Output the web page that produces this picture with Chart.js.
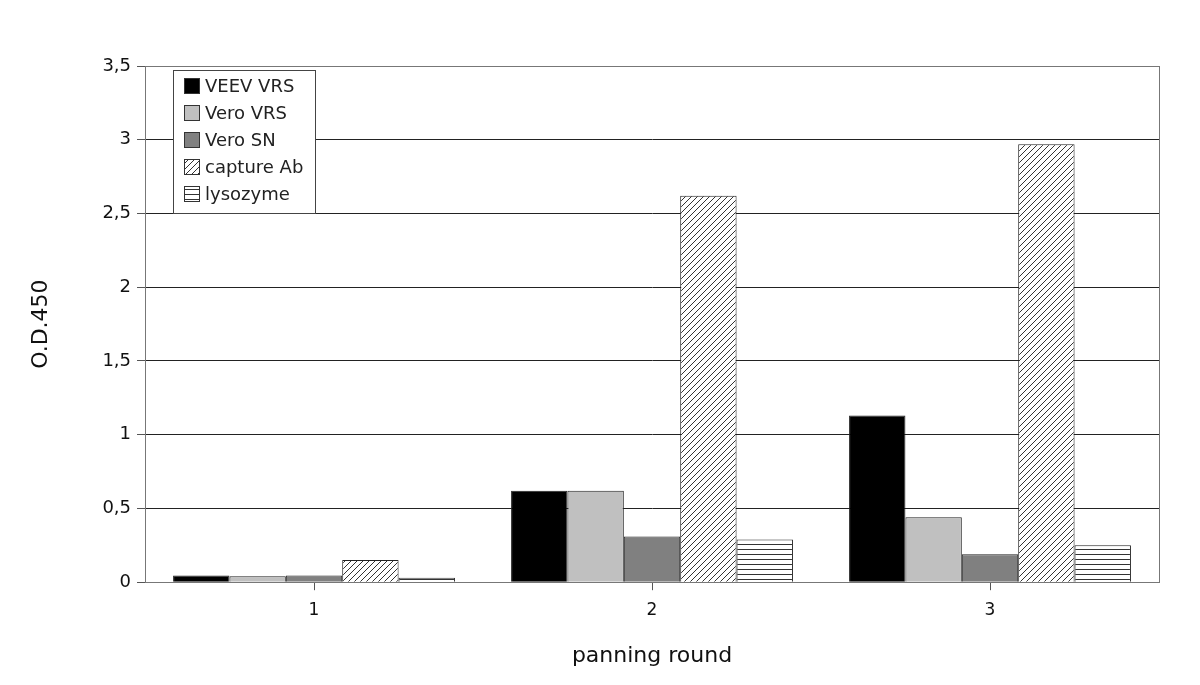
<!DOCTYPE html>
<html>
<head>
<meta charset="utf-8">
<script src="https://cdn.jsdelivr.net/npm/chart.js@4/dist/chart.umd.min.js"></script>
<style>
  html, body { margin: 0; padding: 0; background: #fff; }
  #wrap { width: 1200px; height: 685px; }
</style>
</head>
<body>
<div id="wrap"><canvas id="myChart" width="1200" height="685"></canvas></div>
<script>
const rounds = ['1', '2', '3'];
const seriesNames = ['VEEV VRS', 'Vero VRS', 'Vero SN', 'capture Ab', 'lysozyme'];
const veevVrs = [0.045, 0.62, 1.13];
const veroVrs = [0.04, 0.62, 0.44];
const veroSn = [0.045, 0.31, 0.19];
const captureAb = [0.15, 2.62, 2.97];
const lysozyme = [0.03, 0.29, 0.25];

function hatch(kind) {
    const c = document.createElement('canvas');
    const s = kind === 'diag' ? 6 : 5;
    c.width = s; c.height = s;
    const g = c.getContext('2d');
    g.fillStyle = '#fff';
    g.fillRect(0, 0, s, s);
    g.strokeStyle = '#333';
    g.lineWidth = 1;
    g.beginPath();
    if (kind === 'diag') {
        g.moveTo(0, s); g.lineTo(s, 0);
        g.moveTo(-1, 1); g.lineTo(1, -1);
        g.moveTo(s - 1, s + 1); g.lineTo(s + 1, s - 1);
    } else {
        g.moveTo(0, s - 0.5); g.lineTo(s, s - 0.5);
    }
    g.stroke();
    return g.createPattern(c, 'repeat');
}

const ctx = document.getElementById('myChart').getContext('2d');
const fills = ['#000000', '#c0c0c0', '#808080', hatch('diag'), hatch('horiz')];
const values = [veevVrs, veroVrs, veroSn, captureAb, lysozyme];

// frame around plot area
const frame = {
    id: 'frame',
    afterDatasetsDraw(chart) {
        const a = chart.chartArea, c = chart.ctx;
        c.save();
        c.strokeStyle = '#777';
        c.lineWidth = 1;
        c.strokeRect(Math.round(a.left) + 0.5, Math.round(a.top) + 0.5, Math.round(a.right - a.left), Math.round(a.bottom - a.top));
        c.restore();
    }
};

// legend box inside the plot, top left
const boxLegend = {
    id: 'boxLegend',
    afterDraw(chart) {
        const c = chart.ctx;
        const x = 173, y = 70, w = 142, h = 143;
        c.save();
        c.fillStyle = '#fff';
        c.fillRect(x, y, w, h);
        c.strokeStyle = '#444';
        c.lineWidth = 1;
        c.strokeRect(x + 0.5, y + 0.5, w, h);
        c.font = '18px "DejaVu Sans"';
        c.textBaseline = 'middle';
        chart.data.datasets.forEach((ds, i) => {
            const cy = y + 16 + i * 27;
            c.fillStyle = ds.backgroundColor;
            c.fillRect(x + 11, cy - 8, 16, 16);
            c.strokeStyle = '#333';
            c.strokeRect(x + 11.5, cy - 7.5, 15, 15);
            c.fillStyle = '#222';
            c.fillText(ds.label, x + 32, cy + 1);
        });
        c.restore();
    }
};

new Chart(ctx, {
    type: 'bar',
    data: {
        labels: rounds,
        datasets: seriesNames.map((n, i) => ({
            label: n,
            data: values[i],
            backgroundColor: fills[i],
            borderColor: '#222',
            borderWidth: 1,
            borderSkipped: 'bottom'
        }))
    },
    options: {
        responsive: false,
        animation: false,
        layout: { padding: { top: 66, right: 41, left: 24, bottom: 12 } },
        categoryPercentage: 0.834,
        barPercentage: 1.0,
        plugins: {
            legend: { display: false },
            tooltip: { enabled: false }
        },
        scales: {
            x: {
                grid: { display: true, drawOnChartArea: false, offset: false, tickLength: 8, color: '#555' },
                border: { color: '#555' },
                ticks: { color: '#111', font: { family: 'DejaVu Sans', size: 17 }, padding: 10 },
                title: { display: true, text: 'panning round', color: '#111', font: { family: 'DejaVu Sans', size: 22 }, padding: { top: 12 } }
            },
            y: {
                min: 0, max: 3.5,
                ticks: {
                    stepSize: 0.5,
                    color: '#111',
                    font: { family: 'DejaVu Sans', size: 18 },
                    padding: 6,
                    callback: v => String(v).replace('.', ',')
                },
                grid: { color: '#222', tickLength: 8, tickColor: '#555' },
                border: { color: '#555' },
                title: { display: true, text: 'O.D.450', color: '#111', font: { family: 'DejaVu Sans', size: 22 }, padding: { bottom: 42 } }
            }
        }
    },
    plugins: [frame, boxLegend]
});
</script>
</body>
</html>
